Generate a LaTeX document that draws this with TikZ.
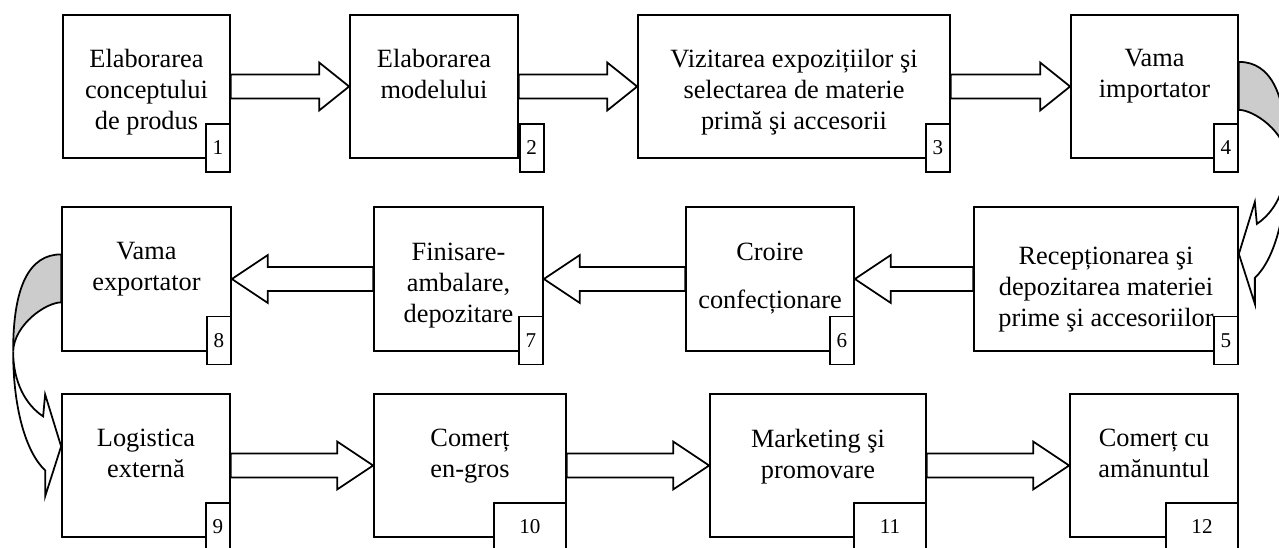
\documentclass[tikz,border=0pt]{standalone}
\usepackage{fontspec}
\setmainfont{Liberation Serif}
\usetikzlibrary{calc}

% wide white arrow between two box sides: from, to, head length
\newcommand{\blockarrow}[3]{%
  \draw[blockarr] ($(#1)+(0,-12)$) -- ($(#2)!#3!(#1)+(0,-12)$)
    -- ($(#2)!#3!(#1)+(0,-24)$) -- (#2)
    -- ($(#2)!#3!(#1)+(0,24)$) -- ($(#2)!#3!(#1)+(0,12)$)
    -- ($(#1)+(0,12)$) -- cycle;}

\begin{document}
\begin{tikzpicture}[x=0.02cm, y=-0.02cm,
    stepbox/.style={draw, line width=1pt, inner sep=0pt, minimum height=2.87cm},
    steptext/.style={anchor=north, align=center, inner sep=0pt,
      font=\fontsize{15}{17.6}\selectfont},
    numbox/.style={draw, fill=white, line width=1pt, inner sep=0pt,
      minimum width=0.48cm, minimum height=0.96cm, font=\fontsize{12}{14}\selectfont},
    widenum/.style={numbox, minimum width=1.44cm},
    blockarr/.style={draw, fill=white, line width=1pt},
    backarr/.style={draw, fill=black!20, line width=1pt}]
  \useasboundingbox (0,0) rectangle (1279,548);

  % first row
  \node[stepbox, minimum width=3.34cm] (s1) at (146.5,86.5) {};
  \node[stepbox, minimum width=3.36cm] (s2) at (434,86.5) {};
  \node[stepbox, minimum width=6.24cm] (s3) at (794,86.5) {};
  \node[stepbox, minimum width=3.34cm] (s4) at (1154.5,86.5) {};
  \node[steptext] (t1) at ($(s1.north)+(0,35)$) {Elaborarea\\conceptului\\de produs};
  \node[steptext] (t2) at ($(s2.north)+(0,35)$) {Elaborarea\\modelului};
  \node[steptext] (t3) at ($(s3.north)+(0,35)$) {Vizitarea expozițiilor şi\\selectarea de materie\\primă şi accesorii};
  \node[steptext] (t4) at ($(s4.north)+(0,35)$) {Vama\\importator};
  \node[numbox, anchor=north east] (n1) at ($(s1.south east)+(0,-36)$) {1};
  \node[numbox, anchor=north west] (n2) at ($(s2.south east)+(0,-36)$) {2};
  \node[numbox, anchor=north east] (n3) at ($(s3.south east)+(0,-36)$) {3};
  \node[numbox, anchor=north east] (n4) at ($(s4.south east)+(0,-36)$) {4};

  % second row
  \node[stepbox, minimum width=5.28cm] (s5) at (1106,279) {};
  \node[stepbox, minimum width=3.36cm] (s6) at (770,279) {};
  \node[stepbox, minimum width=3.38cm] (s7) at (458.5,279) {};
  \node[stepbox, minimum width=3.38cm] (s8) at (146.5,279) {};
  \node[steptext] (t5) at ($(s5.north)+(0,40)$) {Recepționarea şi\\depozitarea materiei\\prime şi accesoriilor};
  \node[steptext] (t6) at ($(s6.north)+(0,36)$) {Croire\\[10pt]confecționare};
  \node[steptext] (t7) at ($(s7.north)+(0,36)$) {Finisare-\\ambalare,\\depozitare};
  \node[steptext] (t8) at ($(s8.north)+(0,36)$) {Vama\\exportator};
  \node[numbox, anchor=north east] (n5) at ($(s5.south east)+(0,-36)$) {5};
  \node[numbox, anchor=north east] (n6) at ($(s6.south east)+(0,-36)$) {6};
  \node[numbox, anchor=north east] (n7) at ($(s7.south east)+(0,-36)$) {7};
  \node[numbox, anchor=north east] (n8) at ($(s8.south east)+(0,-36)$) {8};

  % third row
  \node[stepbox, minimum width=3.36cm] (s9) at (146,465.5) {};
  \node[stepbox, minimum width=3.84cm] (s10) at (470,465.5) {};
  \node[stepbox, minimum width=4.32cm] (s11) at (818,465.5) {};
  \node[stepbox, minimum width=3.36cm] (s12) at (1154,465.5) {};
  \node[steptext] (t9) at ($(s9.north)+(0,36)$) {Logistica\\externă};
  \node[steptext] (t10) at ($(s10.north)+(0,36)$) {Comerț\\en-gros};
  \node[steptext] (t11) at ($(s11.north)+(0,36)$) {Marketing şi\\promovare};
  \node[steptext] (t12) at ($(s12.north)+(0,36)$) {Comerț cu\\amănuntul};
  \node[numbox, anchor=north east] (n9) at ($(s9.south east)+(0,-36)$) {9};
  \node[widenum, anchor=north east] (n10) at ($(s10.south east)+(0,-36)$) {10};
  \node[widenum, anchor=north east] (n11) at ($(s11.south east)+(0,-36)$) {11};
  \node[widenum, anchor=north east] (n12) at ($(s12.south east)+(0,-36)$) {12};

  % straight arrows
  \blockarrow{s1.east}{s2.west}{0.6cm}
  \blockarrow{s2.east}{s3.west}{0.6cm}
  \blockarrow{s3.east}{s4.west}{0.6cm}
  \blockarrow{s5.west}{s6.east}{0.72cm}
  \blockarrow{s6.west}{s7.east}{0.72cm}
  \blockarrow{s7.west}{s8.east}{0.72cm}
  \blockarrow{s9.east}{s10.west}{0.72cm}
  \blockarrow{s10.east}{s11.west}{0.72cm}
  \blockarrow{s11.east}{s12.west}{0.72cm}

  % curved arrow 4 -> 5
  \begin{scope}[shift={(s4.north east)}]
    \draw[backarr] (0,48) .. controls (32,48) and (48,80) .. (48,145)
      .. controls (47,118) and (15,96) .. (0,96) -- cycle;
    \draw[blockarr] (48,145) .. controls (48,200) and (36,245) .. (16,264)
      -- (16,290) -- (0,240) -- (16,188) -- (18,210)
      .. controls (36,198) and (48,175) .. (48,145) -- cycle;
  \end{scope}
  % curved arrow 8 -> 9
  \begin{scope}[shift={(s8.north west)}, xscale=-1]
    \draw[backarr] (0,48) .. controls (32,48) and (48,80) .. (48,145)
      .. controls (47,118) and (15,96) .. (0,96) -- cycle;
    \draw[blockarr] (48,145) .. controls (48,200) and (36,245) .. (16,264)
      -- (16,290) -- (0,240) -- (16,188) -- (18,210)
      .. controls (36,198) and (48,175) .. (48,145) -- cycle;
  \end{scope}
\end{tikzpicture}
\end{document}
